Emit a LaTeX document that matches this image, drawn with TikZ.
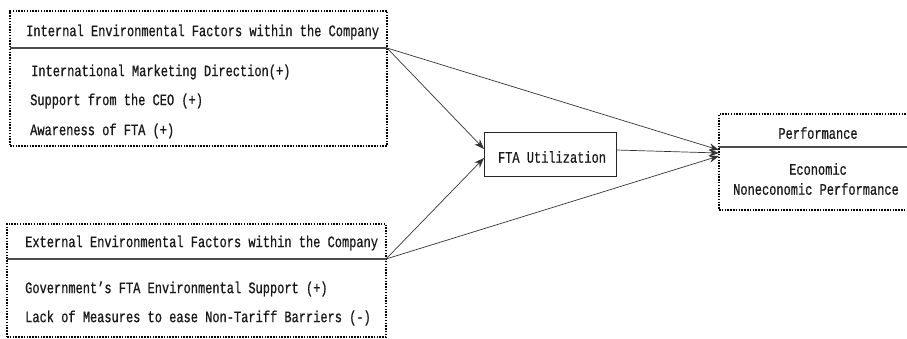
\documentclass[tikz,border=0pt]{standalone}
\usepackage{fontspec}
\setmainfont{Liberation Mono}[FakeBold=0.7, FakeStretch=0.75]
\usetikzlibrary{arrows.meta}
\begin{document}
\begin{tikzpicture}[x=1pt,y=-1pt,
  dotbox/.style={draw=black, line width=1.5pt, dash pattern=on 1.5pt off 1.3pt, rectangle, inner sep=0pt},
  divider/.style={draw=black!70, line width=1.1pt},
  txt/.style={inner sep=0pt, font=\fontsize{16}{18}\selectfont, text=black!90},
  link/.style={draw=black!80, line width=0.7pt, -{Stealth[length=10pt,width=7.5pt]}}]
\useasboundingbox (0,0) rectangle (907,339);
% boxes
\node[dotbox, minimum width=377pt, minimum height=135pt] (inb) at (198.5,78.5) {};
\node[dotbox, minimum width=379pt, minimum height=113pt] (exb) at (196.5,280.5) {};
\node[draw=black!85, line width=0.8pt, minimum width=132pt, minimum height=44pt, inner sep=0pt] (fta) at (550,154) {};
\begin{scope}
\clip (0,0) rectangle (907,339);
\node[dotbox, minimum width=198pt, minimum height=96pt] (perf) at (818,162) {};
\end{scope}
% dividers
\coordinate (c1) at (387,48);
\coordinate (c2) at (386,259);
\coordinate (d1) at (10,48);
\coordinate (d2) at (7,259);
\coordinate (p1) at (719,147);
\coordinate (p2) at (907,147);
\draw[divider] (d1) -- (c1);
\draw[divider] (d2) -- (c2);
\draw[divider] (p1) -- (p2);
% texts
\node[txt, anchor=west] (t1) at (26,32) {Internal Environmental Factors within the Company};
\node[txt, anchor=west] (t11) at (31,72) {International Marketing Direction(+)};
\node[txt, anchor=west] (t12) at (30,101) {Support from the CEO (+)};
\node[txt, anchor=west] (t13) at (30,131) {Awareness of FTA (+)};
\node[txt, anchor=west] (t2) at (25,243) {External Environmental Factors within the Company};
\node[txt, anchor=west] (t21) at (25,289) {Government’s FTA Environmental Support (+)};
\node[txt, anchor=west] (t22) at (25,318) {Lack of Measures to ease Non-Tariff Barriers (-)};
\node[txt] (tf) at (552,157) {FTA Utilization};
\node[txt] (tp) at (818,133) {Performance};
\node[txt] (tp1) at (818,169) {Economic};
\node[txt] (tp2) at (816,189) {Noneconomic Performance};
% arrow targets
\coordinate (fa) at (484,149);
\coordinate (fb) at (484,158);
\coordinate (fo) at (616,150);
\coordinate (pa) at (719,150);
\coordinate (pb) at (719,153);
\coordinate (pc) at (719,156);
\draw[link] (c1) -- (fa);
\draw[link] (c2) -- (fb);
\draw[link] (c1) -- (pa);
\draw[link] (fo) -- (pb);
\draw[link] (c2) -- (pc);
\end{tikzpicture}
\end{document}
